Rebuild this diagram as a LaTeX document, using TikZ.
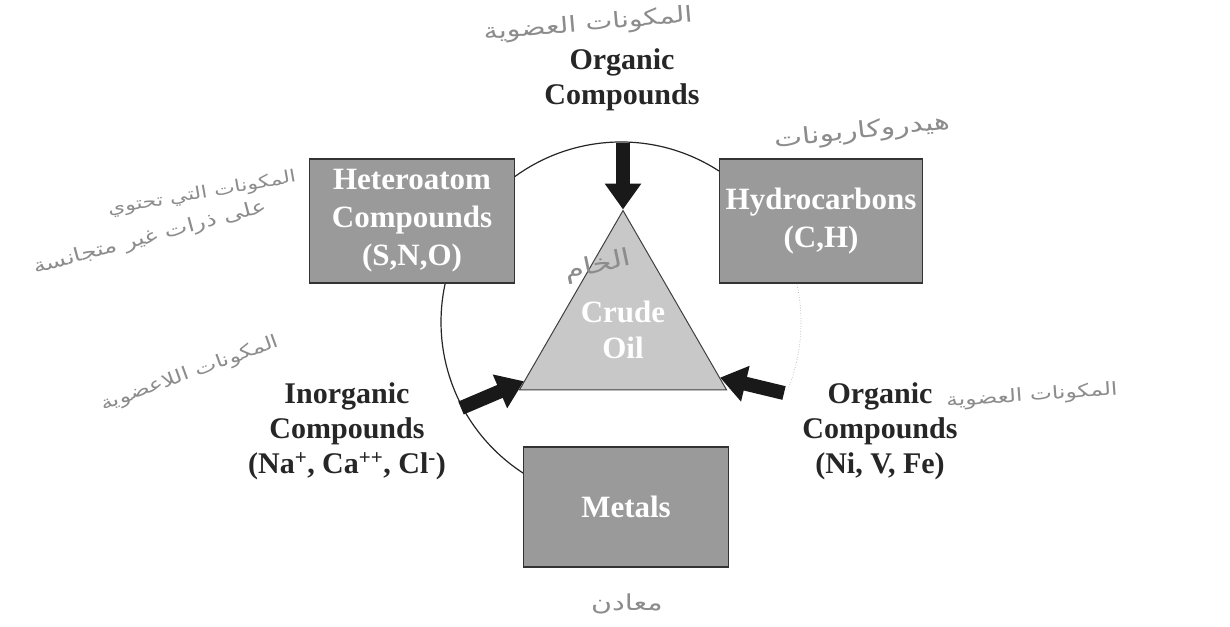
\documentclass[tikz,border=0pt]{standalone}
\usepackage{fontspec}
\setmainfont{Liberation Serif}
\newfontfamily\arabicfont[Script=Arabic, FakeStretch=1.3]{DejaVu Sans}
\TeXXeTstate=1
\usetikzlibrary{arrows.meta, positioning, calc, shapes.geometric}
\definecolor{boxgray}{HTML}{9A9A9A}
\definecolor{trigray}{HTML}{C8C8C8}
\definecolor{notegray}{HTML}{8C8C8C}
\definecolor{inkgray}{HTML}{262626}
\tikzset{
    crudediagram/.style={x=1pt, y=-1pt, font=\bfseries\fontsize{30}{35}\selectfont, text=inkgray},
    fraction/.style={draw=black!80, line width=1.6pt, fill=boxgray, text=white, align=center,
        minimum width=205pt, minimum height=124pt, inner sep=0pt,
        font=\bfseries\fontsize{31}{38}\selectfont},
    crude/.style={regular polygon, regular polygon sides=3, minimum size=239pt, inner sep=0pt,
        draw=black!75, line width=1pt, fill=trigray, text=white, align=center,
        font=\bfseries\fontsize{31}{36}\selectfont},
    source/.style={align=center, inner sep=0pt},
    feed/.style={line width=14pt, draw=black!90, -{Triangle[length=26pt, width=35pt]}},
    ring/.style={line width=1.2pt, draw=black!85},
    % handwritten arabic notes, size given per note
    note/.style={text=notegray, inner sep=0pt, font=\arabicfont\fontsize{#1}{#1}\selectfont},
    note/.default=21,
}
\begin{document}
\begin{tikzpicture}[crudediagram]
    \useasboundingbox (0,0) rectangle (1230,626);

    % ring behind the boxes
    \coordinate (mid) at (621,322);
    \draw[ring] (mid) ++(-57:180) arc[start angle=-57, end angle=-238, radius=180];
    \draw[ring, line width=0.6pt, draw=black!40, dotted] (mid) ++(-12:180) arc[start angle=-12, end angle=22, radius=180];

    \node[fraction]                     (hetero) at (412,221)  {Heteroatom\\Compounds\\(S,N,O)};
    \node[fraction, minimum width=203pt] (hydro)  at (821,221)  {Hydrocarbons\\(C,H)};
    \node[fraction, minimum height=120pt] (metals) at (626,507) {Metals};
    \node[crude]                        (tri)    at (623,330)  {Crude\\Oil};

    \node[source] (orgtop)   at (622,80)  {Organic\\Compounds};
    \node[source] (inorg)    at (347,431) {Inorganic\\Compounds\\(Na\textsuperscript{+}, Ca\textsuperscript{++}, Cl\textsuperscript{-})};
    \node[source] (orgright) at (880,431) {Organic\\Compounds\\(Ni, V, Fe)};

    \coordinate (topfeed)   at (623,143);
    \coordinate (leftfeed)  at (461,408);
    \coordinate (rightfeed) at (784,393);

    \draw[feed] (topfeed) -- (tri.corner 1);
    \draw[feed] (leftfeed) -- ($(tri.corner 2)!0.05!(tri.corner 1)$);
    \draw[feed] (rightfeed) -- ($(tri.corner 3)!0.07!(tri.corner 1)$);

    \node[note=22, rotate=5]  (notetop)    at (588,25)  {\beginR المكونات العضوية\endR};
    \node[note=23, rotate=6]  (notehydro)  at (862,132) {\beginR هيدروكاربونات\endR};
    \node[note=17, rotate=10] (noteheta)   at (202,194) {\beginR المكونات التي تحتوي\endR};
    \node[note=19, rotate=15] (notehetb)   at (150,238) {\beginR على ذرات غير متجانسة\endR};
    \node[note=24, rotate=12] (notecrude)  at (598,266) {\beginR الخام\endR};
    \node[note=18, rotate=20] (noteinorg)  at (190,374) {\beginR المكونات اللاعضوية\endR};
    \node[note=18, rotate=4]  (noteorg)    at (1032,396) {\beginR المكونات العضوية\endR};
    \node[note=22]            (notemetals) at (627,604) {\beginR معادن\endR};
\end{tikzpicture}
\end{document}
